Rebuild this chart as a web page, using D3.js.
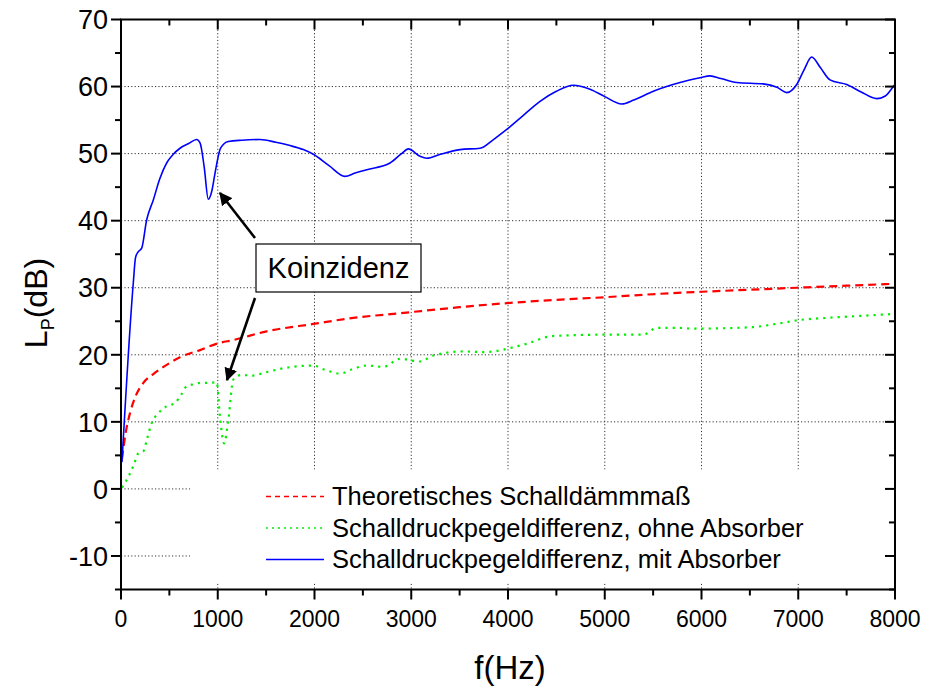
<!DOCTYPE html>
<html>
<head>
<meta charset="utf-8">
<script src="https://cdn.jsdelivr.net/npm/d3@7"></script>
<style>
  body { margin: 0; background: #fff; }
  text { font-family: Arial, "Liberation Sans", sans-serif; }
</style>
</head>
<body>
<div id="chart"></div>
<script>
// Frequenzachse (Hz) und Pegel (dB)
const theoFreq = [10, 50, 93, 150, 231, 350, 472, 620, 817, 1000, 1161, 1506, 1988, 2400, 2884, 3500, 3987, 4500, 5020, 5571, 6000, 6500, 6984, 7500, 8000];
const theoLevel = [4.5, 8.5, 11.3, 13.8, 15.8, 17.3, 18.5, 19.7, 20.7, 21.7, 22.2, 23.5, 24.6, 25.5, 26.2, 27.1, 27.7, 28.2, 28.6, 29.1, 29.4, 29.7, 30.0, 30.3, 30.6];

const ohneFreq = [10, 76, 130, 179, 231, 270, 317, 386, 470, 558, 620, 679, 750, 817, 900, 989, 1023, 1065, 1109, 1161, 1247, 1351, 1500, 1678, 1988, 2100, 2263, 2400, 2540, 2712, 2884, 3090, 3228, 3538, 3745, 4158, 4468, 5020, 5399, 5537, 5778, 5915, 6501, 6811, 7018, 7294, 7638, 8000];
const ohneLevel = [0.2, 1.8, 3.5, 5.3, 5.6, 7.5, 9.8, 11.3, 12.3, 12.8, 14.0, 15.3, 15.6, 15.8, 15.8, 15.9, 10.8, 6.8, 10.3, 16.3, 17.0, 16.9, 17.4, 18.0, 18.4, 17.8, 17.2, 17.9, 18.4, 18.2, 19.4, 19.0, 19.9, 20.5, 20.4, 21.5, 22.8, 23.0, 23.0, 24.0, 24.0, 23.9, 24.1, 24.7, 25.2, 25.5, 25.8, 26.1];

const mitFreq = [10, 127, 150, 175, 214, 265, 334, 400, 472, 540, 610, 700, 782, 817, 860, 902, 940, 972, 1023, 1060, 1109, 1250, 1437, 1600, 1747, 1884, 1988, 2150, 2315, 2420, 2540, 2780, 2900, 2970, 3090, 3160, 3300, 3504, 3711, 3850, 3987, 4150, 4331, 4500, 4675, 4848, 5000, 5175, 5300, 5502, 5778, 5985, 6088, 6200, 6364, 6638, 6780, 6881, 6984, 7060, 7139, 7230, 7328, 7501, 7650, 7811, 7900, 7983, 8000];
const mitLevel = [4, 30.7, 34.5, 35.3, 35.9, 40.1, 43.1, 46.2, 48.6, 49.9, 50.8, 51.5, 52.1, 51.6, 48, 43.2, 44.5, 47.1, 50.6, 51.4, 51.8, 52.0, 52.1, 51.7, 51.2, 50.6, 49.9, 48.2, 46.6, 47.1, 47.6, 48.6, 50.0, 50.7, 49.6, 49.3, 49.9, 50.6, 50.8, 52.1, 53.6, 55.6, 57.8, 59.3, 60.2, 59.6, 58.5, 57.4, 58.0, 59.3, 60.6, 61.3, 61.6, 61.2, 60.6, 60.4, 59.9, 59.1, 60.3, 62.5, 64.4, 62.8, 61.0, 60.3, 59.2, 58.2, 58.6, 60.0, 60.3];

const xTicks = [0, 1000, 2000, 3000, 4000, 5000, 6000, 7000, 8000];
const yTicks = [-10, 0, 10, 20, 30, 40, 50, 60, 70];
const legendLabels = ['Theoretisches Schalldämmmaß', 'Schalldruckpegeldifferenz, ohne Absorber', 'Schalldruckpegeldifferenz, mit Absorber'];

const width = 926, height = 690;
const margin = { top: 19.5, right: 31, bottom: 100.5, left: 121 };
const w = width - margin.left - margin.right;
const h = height - margin.top - margin.bottom;

const x = d3.scaleLinear().domain([0, 8000]).range([0, w]);
const y = d3.scaleLinear().domain([-15, 70]).range([h, 0]);

const svg = d3.select('#chart').append('svg')
  .attr('width', width).attr('height', height);

const g = svg.append('g').attr('transform', `translate(${margin.left},${margin.top})`);

svg.append('defs').append('clipPath').attr('id', 'clip')
  .append('rect').attr('width', w).attr('height', h);

// Gitter
g.append('g').selectAll('line').data(yTicks.filter(v => v > -15 && v < 70)).enter().append('line')
  .attr('x1', 0).attr('x2', w).attr('y1', d => y(d)).attr('y2', d => y(d))
  .attr('stroke', '#333').attr('stroke-width', 1).attr('stroke-dasharray', '1.2,2.2');
g.append('g').selectAll('line').data(xTicks.filter(v => v > 0 && v < 8000)).enter().append('line')
  .attr('y1', 0).attr('y2', h).attr('x1', d => x(d)).attr('x2', d => x(d))
  .attr('stroke', '#333').attr('stroke-width', 1).attr('stroke-dasharray', '1.2,2.2');

// Kurven
const line = d3.line().x(d => x(d[0])).y(d => y(d[1])).curve(d3.curveMonotoneX);
const zip = (a, b) => a.map((v, i) => [v, b[i]]);

const series = [
  { f: theoFreq, l: theoLevel, color: '#ff0000', dash: '8,5', sw: 2.2 },
  { f: ohneFreq, l: ohneLevel, color: '#00ee00', dash: '2.2,5', sw: 2.2 },
  { f: mitFreq, l: mitLevel, color: '#0000ff', dash: null, sw: 1.6 }
];

const curves = g.append('g').attr('clip-path', 'url(#clip)');
series.forEach(s => {
  curves.append('path')
    .datum(zip(s.f, s.l))
    .attr('d', line)
    .attr('fill', 'none')
    .attr('stroke', s.color)
    .attr('stroke-width', s.sw)
    .attr('stroke-dasharray', s.dash);
});

// Legende (weißer Hintergrund)
const lg = g.append('g');
lg.append('rect')
  .attr('x', 69).attr('y', 450).attr('width', w - 70).attr('height', 113)
  .attr('fill', '#fff');
series.forEach((s, i) => {
  const ly = 477 + i * 31.5;
  lg.append('line')
    .attr('x1', 145).attr('x2', 203).attr('y1', ly).attr('y2', ly)
    .attr('stroke', s.color).attr('stroke-width', 1.6)
    .attr('stroke-dasharray', i === 0 ? '5,4' : (i === 1 ? '2,4' : null));
  lg.append('text')
    .attr('x', 211).attr('y', ly).attr('dy', '0.35em')
    .style('font-size', '25.5px').attr('fill', '#000')
    .text(legendLabels[i]);
});

// Achsen
const majorLen = 10, minorLen = 6;
const xMinor = d3.range(500, 8000, 1000);
const yMinor = d3.range(-15, 70, 10);

const axisG = g.append('g').attr('stroke', '#000');
axisG.append('rect').attr('width', w).attr('height', h)
  .attr('fill', 'none').attr('stroke-width', 2);

// unten (nach außen), oben (nach innen)
xTicks.forEach(v => {
  axisG.append('line').attr('x1', x(v)).attr('x2', x(v)).attr('y1', h).attr('y2', h + majorLen).attr('stroke-width', 2);
  axisG.append('line').attr('x1', x(v)).attr('x2', x(v)).attr('y1', 0).attr('y2', majorLen).attr('stroke-width', 2);
});
xMinor.forEach(v => {
  axisG.append('line').attr('x1', x(v)).attr('x2', x(v)).attr('y1', h).attr('y2', h + minorLen).attr('stroke-width', 2);
  axisG.append('line').attr('x1', x(v)).attr('x2', x(v)).attr('y1', 0).attr('y2', minorLen).attr('stroke-width', 2);
});
// links (nach außen), rechts (nach innen)
yTicks.forEach(v => {
  axisG.append('line').attr('y1', y(v)).attr('y2', y(v)).attr('x1', 0).attr('x2', -majorLen).attr('stroke-width', 2);
  axisG.append('line').attr('y1', y(v)).attr('y2', y(v)).attr('x1', w).attr('x2', w - majorLen).attr('stroke-width', 2);
});
yMinor.forEach(v => {
  axisG.append('line').attr('y1', y(v)).attr('y2', y(v)).attr('x1', 0).attr('x2', -minorLen).attr('stroke-width', 2);
  axisG.append('line').attr('y1', y(v)).attr('y2', y(v)).attr('x1', w).attr('x2', w - minorLen).attr('stroke-width', 2);
});

g.append('g').selectAll('text').data(xTicks).enter().append('text')
  .attr('x', d => x(d)).attr('y', h + 37)
  .attr('text-anchor', 'middle').style('font-size', '23px')
  .text(d => d);
g.append('g').selectAll('text').data(yTicks).enter().append('text')
  .attr('x', -13).attr('y', d => y(d)).attr('dy', '0.36em')
  .attr('text-anchor', 'end').style('font-size', '27px')
  .text(d => d);

// Achsentitel
svg.append('text')
  .attr('x', margin.left + x(4000) + 2).attr('y', 679)
  .attr('text-anchor', 'middle').style('font-size', '33px')
  .text('f(Hz)');

const yt = svg.append('text')
  .attr('transform', `translate(47,303) rotate(-90)`)
  .attr('text-anchor', 'middle').style('font-size', '32px');
yt.append('tspan').text('L');
yt.append('tspan').text('P').style('font-size', '18px').attr('dy', 7);
yt.append('tspan').text('(dB)').attr('dy', -7);

// Annotation "Koinzidenz"
svg.append('defs').append('marker')
  .attr('id', 'arrow').attr('viewBox', '0 0 10 10')
  .attr('refX', 9).attr('refY', 5)
  .attr('markerWidth', 5).attr('markerHeight', 5)
  .attr('orient', 'auto')
  .append('path').attr('d', 'M0,0 L10,5 L0,10 z').attr('fill', '#000');

svg.append('line')
  .attr('x1', 255).attr('y1', 238).attr('x2', 220).attr('y2', 193)
  .attr('stroke', '#000').attr('stroke-width', 2.6).attr('marker-end', 'url(#arrow)');
svg.append('line')
  .attr('x1', 255).attr('y1', 298).attr('x2', 227).attr('y2', 380)
  .attr('stroke', '#000').attr('stroke-width', 2.6).attr('marker-end', 'url(#arrow)');

svg.append('rect')
  .attr('x', 256).attr('y', 244).attr('width', 165).attr('height', 48)
  .attr('fill', '#fff').attr('stroke', '#000').attr('stroke-width', 1.2);
svg.append('text')
  .attr('x', 338.5).attr('y', 268).attr('dy', '0.36em')
  .attr('text-anchor', 'middle').style('font-size', '29px')
  .text('Koinzidenz');
</script>
</body>
</html>
